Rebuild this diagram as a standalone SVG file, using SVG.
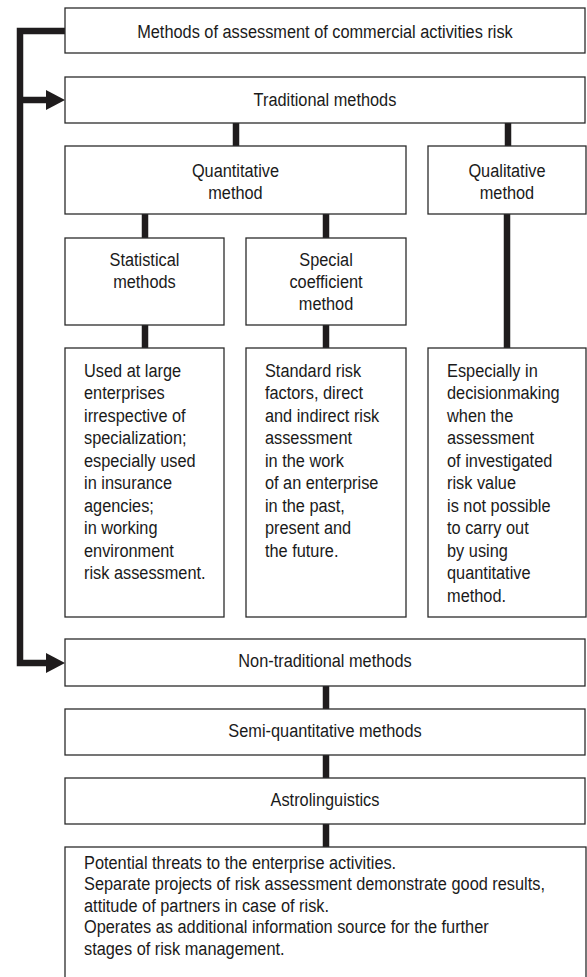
<svg xmlns="http://www.w3.org/2000/svg" width="587" height="977" viewBox="0 0 587 977">
<style>
rect.box{fill:#fff;stroke:#2b2b2b;stroke-width:1.3}
text{font-family:"Liberation Sans",Arial,sans-serif;font-size:19px;fill:#1a1a1a}
text.c{text-anchor:middle}
.conn line,.conn polyline{stroke:#1f1c1d;stroke-width:6.5;fill:none}
.conn polygon{fill:#1f1c1d}
</style>
<rect width="587" height="977" fill="#fff"/>
<g class="conn" id="connectors">
<polyline points="65,31 20,31 20,663 47,663"/>
<line x1="20" y1="100" x2="47" y2="100"/>
<polygon points="46,90 65,100 46,110"/>
<polygon points="46,653 65,663 46,673"/>
<line x1="236" y1="123" x2="236" y2="146"/>
<line x1="508" y1="123" x2="508" y2="146"/>
<line x1="145" y1="214" x2="145" y2="238"/>
<line x1="326" y1="214" x2="326" y2="238"/>
<line x1="145" y1="325" x2="145" y2="348"/>
<line x1="326" y1="325" x2="326" y2="348"/>
<line x1="507" y1="214" x2="507" y2="348"/>
<line x1="326" y1="686" x2="326" y2="709"/>
<line x1="326" y1="755" x2="326" y2="778"/>
<line x1="326" y1="824" x2="326" y2="847"/>
</g>
<g id="n-top">
<rect class="box" x="65" y="8" width="520" height="45"/>
<text class="c" transform="scale(0.86 1)" x="377.9" y="38">Methods of assessment of commercial activities risk</text>
</g>
<g id="n-traditional">
<rect class="box" x="65" y="77" width="520" height="46"/>
<text class="c" transform="scale(0.86 1)" x="377.9" y="106">Traditional methods</text>
</g>
<g id="n-quantitative">
<rect class="box" x="65" y="146" width="341" height="68"/>
<text class="c" transform="scale(0.86 1)"><tspan x="273.8" y="177">Quantitative</tspan><tspan x="273.8" y="199">method</tspan></text>
</g>
<g id="n-qualitative">
<rect class="box" x="428" y="146" width="158" height="68"/>
<text class="c" transform="scale(0.86 1)"><tspan x="589.5" y="177">Qualitative</tspan><tspan x="589.5" y="199">method</tspan></text>
</g>
<g id="n-statistical">
<rect class="box" x="65" y="238" width="159" height="87"/>
<text class="c" transform="scale(0.86 1)"><tspan x="168" y="266">Statistical</tspan><tspan x="168" y="288">methods</tspan></text>
</g>
<g id="n-special">
<rect class="box" x="246" y="238" width="160" height="87"/>
<text class="c" transform="scale(0.86 1)"><tspan x="379.1" y="266">Special</tspan><tspan x="379.1" y="288">coefficient</tspan><tspan x="379.1" y="310">method</tspan></text>
</g>
<g id="n-stat-detail">
<rect class="box" x="65" y="348" width="159" height="269"/>
<text transform="scale(0.86 1)"><tspan x="97.7" y="377">Used at large</tspan><tspan x="97.7" y="399.5">enterprises</tspan><tspan x="97.7" y="422">irrespective of</tspan><tspan x="97.7" y="444.5">specialization;</tspan><tspan x="97.7" y="467">especially used</tspan><tspan x="97.7" y="489.5">in insurance</tspan><tspan x="97.7" y="512">agencies;</tspan><tspan x="97.7" y="534.5">in working</tspan><tspan x="97.7" y="557">environment</tspan><tspan x="97.7" y="579.5">risk assessment.</tspan></text>
</g>
<g id="n-special-detail">
<rect class="box" x="246" y="348" width="160" height="269"/>
<text transform="scale(0.86 1)"><tspan x="308.1" y="377">Standard risk</tspan><tspan x="308.1" y="399.5">factors, direct</tspan><tspan x="308.1" y="422">and indirect risk</tspan><tspan x="308.1" y="444.5">assessment</tspan><tspan x="308.1" y="467">in the work</tspan><tspan x="308.1" y="489.5">of an enterprise</tspan><tspan x="308.1" y="512">in the past,</tspan><tspan x="308.1" y="534.5">present and</tspan><tspan x="308.1" y="557">the future.</tspan></text>
</g>
<g id="n-qual-detail">
<rect class="box" x="428" y="348" width="158" height="269"/>
<text transform="scale(0.86 1)"><tspan x="519.8" y="377">Especially in</tspan><tspan x="519.8" y="399.5">decisionmaking</tspan><tspan x="519.8" y="422">when the</tspan><tspan x="519.8" y="444.5">assessment</tspan><tspan x="519.8" y="467">of investigated</tspan><tspan x="519.8" y="489.5">risk value</tspan><tspan x="519.8" y="512">is not possible</tspan><tspan x="519.8" y="534.5">to carry out</tspan><tspan x="519.8" y="557">by using</tspan><tspan x="519.8" y="579.5">quantitative</tspan><tspan x="519.8" y="602">method.</tspan></text>
</g>
<g id="n-nontraditional">
<rect class="box" x="65" y="639" width="520" height="47"/>
<text class="c" transform="scale(0.86 1)" x="377.9" y="667">Non-traditional methods</text>
</g>
<g id="n-semiquant">
<rect class="box" x="65" y="709" width="520" height="46"/>
<text class="c" transform="scale(0.86 1)" x="377.9" y="737">Semi-quantitative methods</text>
</g>
<g id="n-astro">
<rect class="box" x="65" y="778" width="520" height="46"/>
<text class="c" transform="scale(0.86 1)" x="377.9" y="806">Astrolinguistics</text>
</g>
<g id="n-bottom">
<rect class="box" x="65" y="847" width="521" height="140"/>
<text transform="scale(0.86 1)"><tspan x="97.7" y="869">Potential threats to the enterprise activities.</tspan><tspan x="97.7" y="890.5">Separate projects of risk assessment demonstrate good results,</tspan><tspan x="97.7" y="912">attitude of partners in case of risk.</tspan><tspan x="97.7" y="933.5">Operates as additional information source for the further</tspan><tspan x="97.7" y="955">stages of risk management.</tspan></text>
</g>
</svg>
